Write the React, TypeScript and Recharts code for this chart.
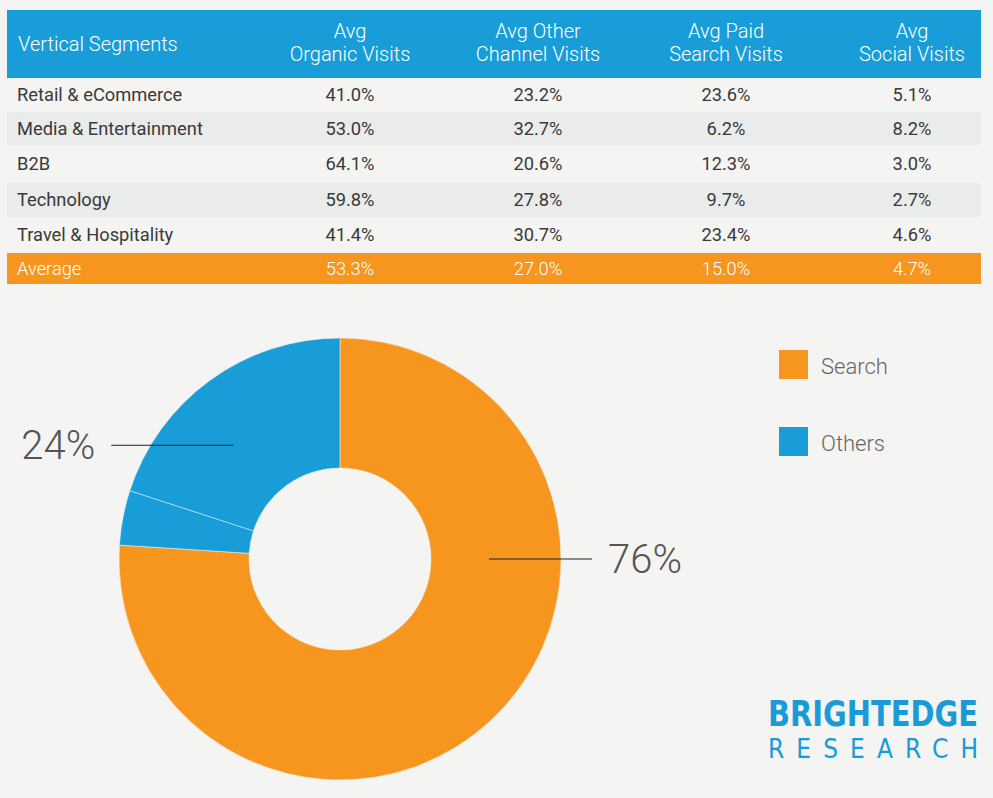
import React, { useLayoutEffect, useRef, useState } from 'react';
import { PieChart, Pie, Cell } from 'recharts';

// Table data
const columns = ['Avg\nOrganic Visits', 'Avg Other\nChannel Visits', 'Avg Paid\nSearch Visits', 'Avg\nSocial Visits'];
const segments = ['Retail & eCommerce', 'Media & Entertainment', 'B2B', 'Technology', 'Travel & Hospitality'];
const organic = ['41.0%', '53.0%', '64.1%', '59.8%', '41.4%'];
const otherChannel = ['23.2%', '32.7%', '20.6%', '27.8%', '30.7%'];
const paidSearch = ['23.6%', '6.2%', '12.3%', '9.7%', '23.4%'];
const social = ['5.1%', '8.2%', '3.0%', '2.7%', '4.6%'];
const average = ['53.3%', '27.0%', '15.0%', '4.7%'];

// Donut data
const sliceNames = ['Search', 'Others', 'Others'];
const sliceValues = [76, 4, 20];
const legendItems = ['Search', 'Others'];

const BLUE = '#189dd8';
const ORANGE = '#f7961f';
const BG = '#f4f4f2';
const sliceColors = [ORANGE, BLUE, BLUE];

const pieData = sliceNames.map((name, i) => ({ name, value: sliceValues[i] }));
const total = sliceValues.reduce((a, b) => a + b, 0);
const searchTotal = sliceValues.filter((_, i) => sliceNames[i] === 'Search').reduce((a, b) => a + b, 0);
const othersTotal = total - searchTotal;

const colCenters = [350, 538, 726, 912];
const rowHeights = [34, 33, 38, 34, 36, 31];

const renderLabel = (props: any) => {
  const { cx, cy, innerRadius, outerRadius, index } = props;
  const labelStyle = { fontFamily: 'Roboto', fontWeight: 300, fontSize: 40, fill: '#555' };
  if (index === 0) {
    const x1 = cx + 149;
    const x2 = cx + 252;
    return (
      <g>
        <line x1={x1} y1={cy} x2={x2} y2={cy} stroke="#222" strokeWidth={1} />
        <text x={x2 + 16} y={cy} dominantBaseline="central" style={labelStyle}>
          {Math.round((searchTotal / total) * 100)}%
        </text>
      </g>
    );
  }
  if (index === 2) {
    // middle of the combined Others group
    const midFrac = (searchTotal + othersTotal / 2) / total;
    const theta = ((90 - midFrac * 360) * Math.PI) / 180;
    const r = (innerRadius + outerRadius) / 2;
    const ex = cx + r * Math.cos(theta);
    const ey = cy - r * Math.sin(theta);
    const sx = ex - 122;
    return (
      <g>
        <line x1={sx} y1={ey} x2={ex} y2={ey} stroke="#222" strokeWidth={1} />
        <text x={sx - 16} y={ey} dominantBaseline="central" textAnchor="end" style={labelStyle}>
          {Math.round((othersTotal / total) * 100)}%
        </text>
      </g>
    );
  }
  return null;
};

const cellStyle: React.CSSProperties = {
  position: 'absolute',
  transform: 'translateX(-50%)',
  whiteSpace: 'nowrap',
};

const logoFont = "'DejaVu Sans Condensed', 'DejaVu Sans', sans-serif";
const LOGO_W = 210;

export default function App() {
  const rows = segments.map((s, i) => ({
    label: s,
    values: [organic[i], otherChannel[i], paidSearch[i], social[i]],
  }));
  rows.push({ label: 'Average', values: average });

  let top = 78;
  const rowTops = rowHeights.map((h) => {
    const t = top;
    top += h;
    return t;
  });

  // fit logo words to the same width
  const brightRef = useRef<HTMLSpanElement>(null);
  const researchRef = useRef<HTMLSpanElement>(null);
  const [brightScale, setBrightScale] = useState(1);
  const [researchSpacing, setResearchSpacing] = useState(0);
  useLayoutEffect(() => {
    if (brightRef.current) {
      setBrightScale(LOGO_W / brightRef.current.getBoundingClientRect().width);
    }
    if (researchRef.current) {
      const w = researchRef.current.getBoundingClientRect().width;
      setResearchSpacing((LOGO_W - w) / 7);
    }
  }, []);

  return (
    <div
      style={{
        position: 'absolute',
        left: 0,
        top: 0,
        width: 993,
        height: 798,
        background: BG,
        fontFamily: 'Roboto, sans-serif',
        overflow: 'hidden',
      }}
    >
      {/* header */}
      <div style={{ position: 'absolute', left: 7, top: 10, width: 974, height: 68, background: BLUE, color: '#fff', fontWeight: 300, fontSize: 20 }}>
        <div style={{ position: 'absolute', left: 11, top: 0, height: 68, lineHeight: '68px' }}>Vertical Segments</div>
        {columns.map((c, i) => (
          <div key={i} style={{ ...cellStyle, left: colCenters[i] - 7, top: 10, textAlign: 'center', lineHeight: '23px' }}>
            {c.split('\n').map((l, j) => (
              <div key={j}>{l}</div>
            ))}
          </div>
        ))}
      </div>

      {/* rows */}
      {rows.map((r, i) => {
        const isAvg = i === rows.length - 1;
        const bg = isAvg ? ORANGE : i % 2 === 1 ? '#eaebeb' : 'transparent';
        const color = isAvg ? '#fff' : '#3a3a3a';
        return (
          <div key={i} style={{ position: 'absolute', left: 7, top: rowTops[i], width: 974, height: rowHeights[i], background: bg, color, fontSize: 18.3, fontWeight: isAvg ? 300 : 400, lineHeight: `${rowHeights[i]}px` }}>
            <div style={{ position: 'absolute', left: 10 }}>{r.label}</div>
            {r.values.map((v, j) => (
              <div key={j} style={{ ...cellStyle, left: colCenters[j] - 7 }}>{v}</div>
            ))}
          </div>
        );
      })}

      {/* donut */}
      <div style={{ position: 'absolute', left: 0, top: 300 }}>
        <PieChart width={740} height={498} margin={{ top: 0, right: 0, bottom: 0, left: 0 }}>
          <Pie
            data={pieData}
            dataKey="value"
            nameKey="name"
            cx={340}
            cy={259}
            innerRadius={91}
            outerRadius={221}
            startAngle={90}
            endAngle={-270}
            stroke={BG}
            strokeWidth={0.5}
            label={renderLabel}
            labelLine={false}
            isAnimationActive={false}
          >
            {pieData.map((_, i) => (
              <Cell key={i} fill={sliceColors[i]} />
            ))}
          </Pie>
        </PieChart>
      </div>

      {/* legend */}
      {legendItems.map((name, i) => (
        <div key={name} style={{ position: 'absolute', left: 779, top: 350 + i * 77, height: 29, display: 'flex', alignItems: 'center' }}>
          <div style={{ width: 29, height: 29, background: i === 0 ? ORANGE : BLUE }} />
          <div style={{ marginLeft: 13, marginTop: 4, fontSize: 22, fontWeight: 300, color: '#666' }}>{name}</div>
        </div>
      ))}

      {/* logo */}
      <div style={{ position: 'absolute', left: 768, top: 694, width: LOGO_W, color: '#1a9bd7', fontFamily: logoFont, whiteSpace: 'nowrap' }}>
        <div style={{ height: 40, lineHeight: '40px' }}>
          <span
            ref={brightRef}
            style={{ display: 'inline-block', fontSize: 36, fontWeight: 700, transform: `scaleX(${brightScale})`, transformOrigin: 'left center' }}
          >
            BRIGHTEDGE
          </span>
        </div>
        <div style={{ height: 30, lineHeight: '30px' }}>
          <span
            ref={researchRef}
            style={{ display: 'inline-block', fontSize: 26, fontWeight: 400, letterSpacing: researchSpacing, marginRight: -researchSpacing }}
          >
            RESEARCH
          </span>
        </div>
      </div>
    </div>
  );
}
